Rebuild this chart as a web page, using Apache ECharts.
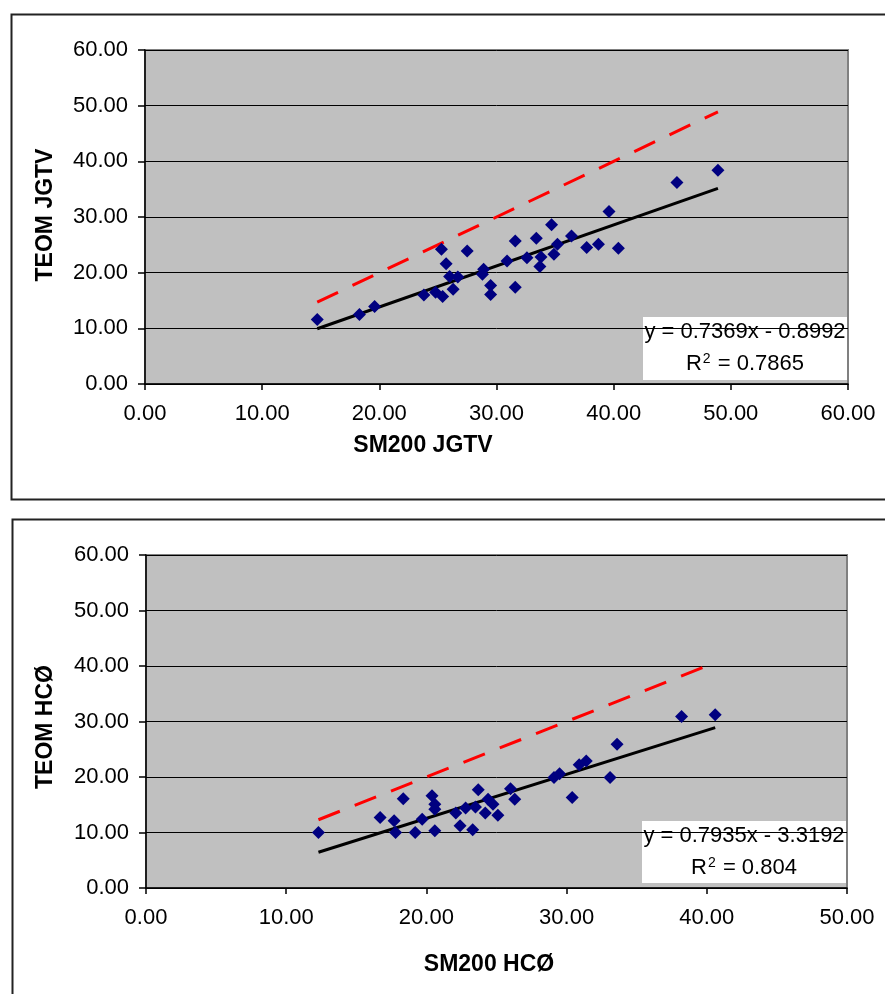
<!DOCTYPE html>
<html>
<head>
<meta charset="utf-8">
<script src="https://cdn.jsdelivr.net/npm/echarts@6/dist/echarts.min.js"></script>
<style>
html,body{margin:0;padding:0;background:#fff;}
#c{width:885px;height:994px;}
</style>
</head>
<body>
<div id="c"></div>
<script>
// ---- Top chart data (SM200 JGTV vs TEOM JGTV) ----
var topX = [14.7, 18.3, 19.6, 23.8, 24.8, 25.4, 25.3, 25.7, 26.0, 26.3, 26.7, 27.5, 28.9, 28.8, 29.5, 29.5, 30.9, 31.6, 31.6, 32.6, 33.4, 33.8, 33.7, 34.7, 34.9, 35.2, 36.4, 37.7, 38.7, 39.6, 40.4, 45.4, 48.9];
var topY = [11.6, 12.5, 13.9, 16.0, 16.5, 15.7, 24.2, 21.6, 19.3, 17.0, 19.2, 23.9, 20.6, 19.7, 17.7, 16.1, 22.1, 25.7, 17.4, 22.7, 26.2, 22.8, 21.1, 28.6, 23.3, 25.1, 26.6, 24.5, 25.1, 31.0, 24.4, 36.2, 38.4];
var topTrend = [[14.7, 9.93], [48.9, 35.13]];
var topOneToOne = [[14.7, 14.7], [48.9, 48.9]];
var topEq = ['y = 0.7369x - 0.8992', '0.7865'];
var topXTicks = [0, 60, 10];

// ---- Bottom chart data (SM200 HCØ vs TEOM HCØ) ----
var botX = [12.3, 16.7, 17.7, 17.8, 18.35, 19.2, 19.7, 20.4, 20.6, 20.6, 20.6, 22.1, 22.4, 22.8, 23.3, 23.7, 23.5, 24.2, 24.4, 24.75, 25.1, 26.0, 26.3, 29.1, 29.5, 30.4, 30.9, 31.4, 33.1, 33.6, 38.2, 40.6];
var botY = [10.0, 12.7, 12.1, 10.0, 16.1, 10.0, 12.4, 16.6, 15.1, 14.2, 10.3, 13.5, 11.2, 14.4, 10.5, 17.7, 14.6, 13.5, 16.0, 15.1, 13.1, 17.9, 16.0, 19.9, 20.6, 16.3, 22.2, 22.9, 19.9, 25.9, 30.9, 31.2];
var botTrend = [[12.3, 6.44], [40.6, 28.90]];
var botOneToOne = [[12.3, 12.3], [40.6, 40.6]];
var botEq = ['y = 0.7935x - 3.3192', '0.804'];
var botXTicks = [0, 50, 10];

var yTicks = [0, 60, 10];

var FONT = "'Liberation Sans', Arial, sans-serif";

function zip(xs, ys) { return xs.map(function (x, i) { return [x, ys[i]]; }); }

function xAxisCfg(gi, t) {
  return {
    gridIndex: gi, type: 'value', min: t[0], max: t[1], interval: t[2],
    axisLine: { show: true, onZero: false, lineStyle: { color: '#000', width: 1.5 } },
    axisTick: { show: true, inside: false, length: 6, lineStyle: { color: '#000', width: 1.5 } },
    splitLine: { show: false },
    axisLabel: { color: '#000', fontFamily: FONT, fontSize: 22, margin: 19,
      formatter: function (v) { return v.toFixed(2); } }
  };
}
function yAxisCfg(gi, t) {
  return {
    gridIndex: gi, type: 'value', min: t[0], max: t[1], interval: t[2],
    axisLine: { show: true, onZero: false, lineStyle: { color: '#000', width: 1.5 } },
    axisTick: { show: true, inside: false, length: 7, lineStyle: { color: '#000', width: 1.5 } },
    splitLine: { show: true, lineStyle: { color: '#000', width: 1 } },
    axisLabel: { color: '#000', fontFamily: FONT, fontSize: 22, margin: 17,
      formatter: function (v) { return v.toFixed(2); } }
  };
}
function scatter(gi, data) {
  return { type: 'scatter', xAxisIndex: gi, yAxisIndex: gi, data: data,
    symbol: 'diamond', symbolSize: 13, itemStyle: { color: '#000080', opacity: 1 }, z: 5 };
}
function line(gi, data, color, dash) {
  return { type: 'line', xAxisIndex: gi, yAxisIndex: gi, data: data, symbol: 'none',
    lineStyle: { color: color, width: 3, type: dash ? [23, 16] : 'solid' }, z: 4, silent: true };
}
function eqBox(x, y, w, h, eq) {
  return { type: 'group', left: x, top: y, children: [
    { type: 'rect', shape: { x: 0, y: 0, width: w, height: h }, style: { fill: '#fff' } },
    { type: 'text', x: w / 2, y: 15, style: { text: eq[0], font: '22px ' + FONT, fill: '#000', textAlign: 'center', textVerticalAlign: 'middle' } },
    { type: 'text', x: w / 2, y: 47, style: {
      text: '{n|R}{s|2}{n| = ' + eq[1] + '}', textAlign: 'center', textVerticalAlign: 'middle',
      rich: { n: { fontFamily: FONT, fontSize: 22, color: '#000' },
              s: { fontFamily: FONT, fontSize: 14, color: '#000', verticalAlign: 'top', padding: [0, 1, 10, 1] } } } }
  ] };
}
function titleText(x, y, txt, rot) {
  return { type: 'text', x: x, y: y, rotation: rot ? Math.PI / 2 : 0,
    style: { text: txt, font: 'bold 23px ' + FONT, fill: '#000', textAlign: 'center', textVerticalAlign: 'middle' } };
}

var chart = echarts.init(document.getElementById('c'), null, { renderer: 'canvas' });
chart.setOption({
  animation: false,
  backgroundColor: '#fff',
  grid: [
    { left: 145, top: 50, width: 703, height: 334, show: true, backgroundColor: '#c0c0c0', borderColor: '#808080', borderWidth: 2 },
    { left: 146, top: 555, width: 701, height: 333, show: true, backgroundColor: '#c0c0c0', borderColor: '#808080', borderWidth: 2 }
  ],
  xAxis: [xAxisCfg(0, topXTicks), xAxisCfg(1, botXTicks)],
  yAxis: [yAxisCfg(0, yTicks), yAxisCfg(1, yTicks)],
  series: [
    line(0, topOneToOne, '#ff0000', true),
    line(0, topTrend, '#000000', false),
    scatter(0, zip(topX, topY)),
    line(1, botOneToOne, '#ff0000', true),
    line(1, botTrend, '#000000', false),
    scatter(1, zip(botX, botY))
  ],
  graphic: [
    { type: 'rect', left: 9, top: 12, shape: { width: 900, height: 485 }, style: { fill: 'none', stroke: '#222', lineWidth: 2 }, z: -10 },
    { type: 'rect', left: 10, top: 517, shape: { width: 900, height: 500 }, style: { fill: 'none', stroke: '#222', lineWidth: 2 }, z: -10 },
    eqBox(643, 317, 204, 63, topEq),
    eqBox(642, 821, 204, 62, botEq),
    titleText(423, 446, 'SM200 JGTV', false),
    titleText(46, 215, 'TEOM JGTV', true),
    titleText(489, 965, 'SM200 HCØ', false),
    titleText(46, 727, 'TEOM HCØ', true)
  ]
});
</script>
</body>
</html>
